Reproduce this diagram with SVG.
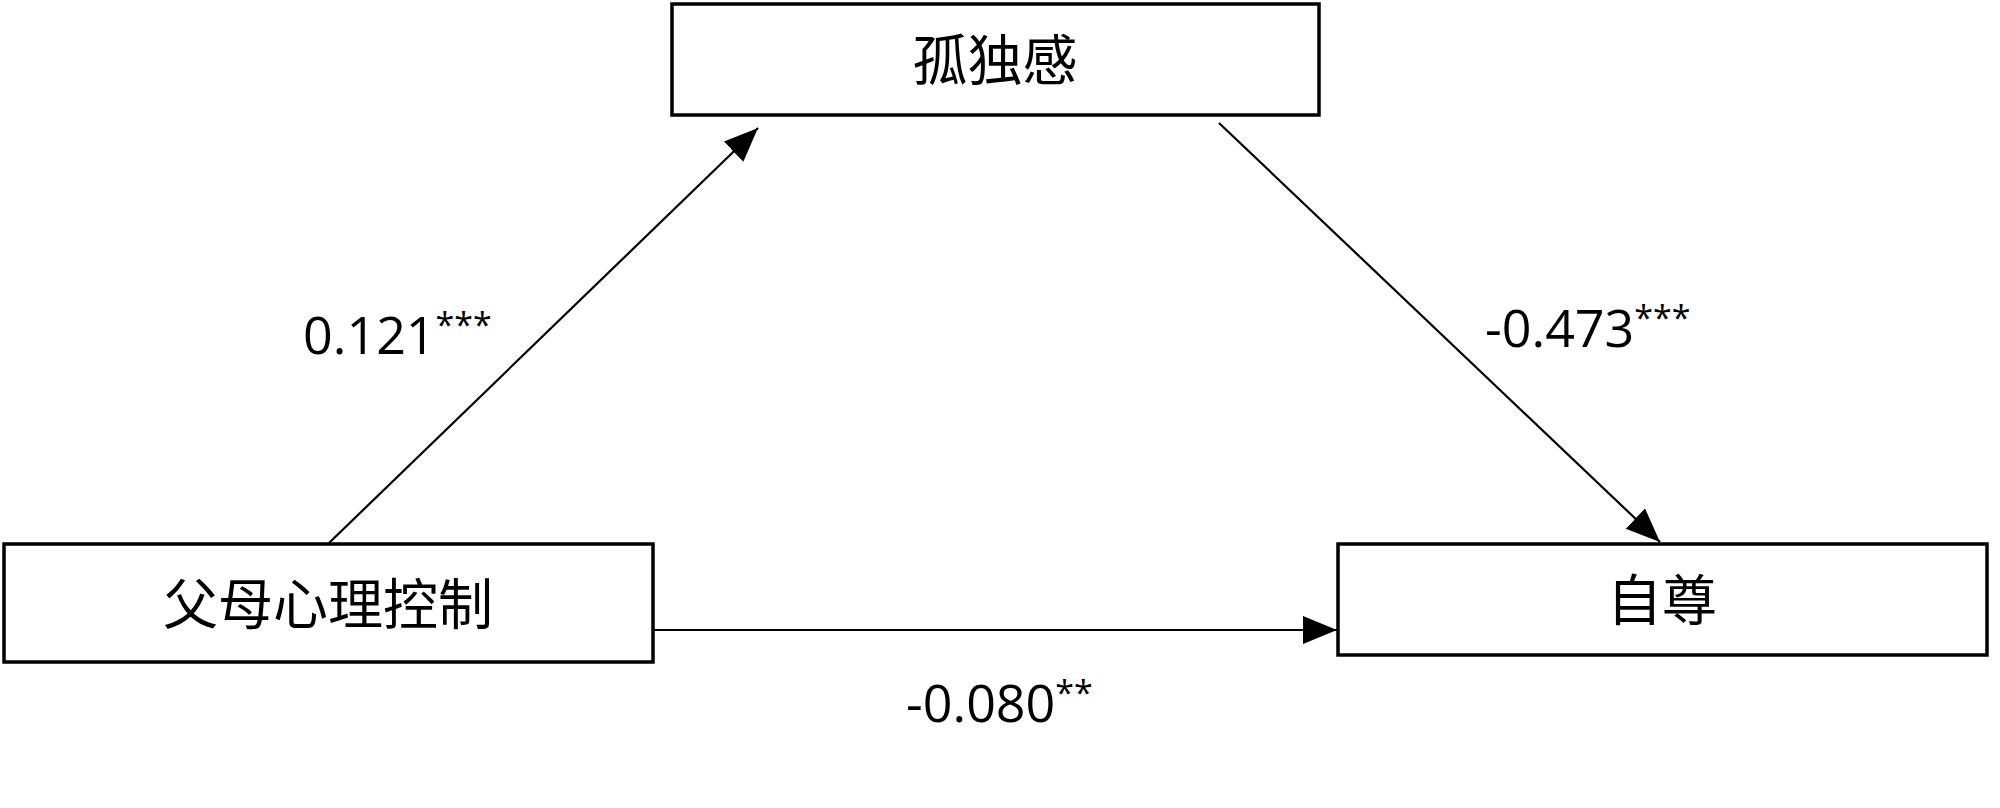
<svg xmlns="http://www.w3.org/2000/svg" width="2000" height="808" viewBox="0 0 2000 808">
<style>
.box{fill:#fff;stroke:#000;stroke-width:3.5}
.lbl{font-family:"Noto Sans CJK SC","Noto Sans CJK JP",sans-serif;font-size:55px;fill:#000;text-anchor:middle}
.num{font-family:"Open Sans","Liberation Sans",sans-serif;font-size:52px;fill:#000}
.sup{font-size:34px}
.edge{stroke:#000;stroke-width:2.2;fill:none;marker-end:url(#ah)}
</style>
<defs>
<marker id="ah" markerUnits="userSpaceOnUse" markerWidth="36" markerHeight="30" refX="34" refY="14" orient="auto">
<path d="M0,0 L34,14 L0,28 Z" fill="#000"/>
</marker>
</defs>
<rect width="2000" height="808" fill="#fff"/>
<g id="connectors">
<line class="edge" x1="329" y1="543" x2="758" y2="128"/>
<line class="edge" x1="1219" y1="123" x2="1660" y2="542"/>
<line class="edge" x1="653" y1="630" x2="1337" y2="630"/>
</g>
<g id="node-loneliness">
<rect class="box" x="672" y="4" width="647" height="111"/>
<text class="lbl" x="995" y="80">孤独感</text>
</g>
<g id="node-control">
<rect class="box" x="4" y="544" width="649" height="118"/>
<text class="lbl" x="328" y="624">父母心理控制</text>
</g>
<g id="node-esteem">
<rect class="box" x="1338" y="544" width="649" height="111"/>
<text class="lbl" x="1662" y="620">自尊</text>
</g>
<g id="labels">
<text class="num" x="303" y="354">0.121<tspan class="sup" dy="-17">***</tspan></text>
<text class="num" x="1485" y="347">-0.473<tspan class="sup" dy="-17">***</tspan></text>
<text class="num" x="906" y="722">-0.080<tspan class="sup" dy="-17">**</tspan></text>
</g>
</svg>
